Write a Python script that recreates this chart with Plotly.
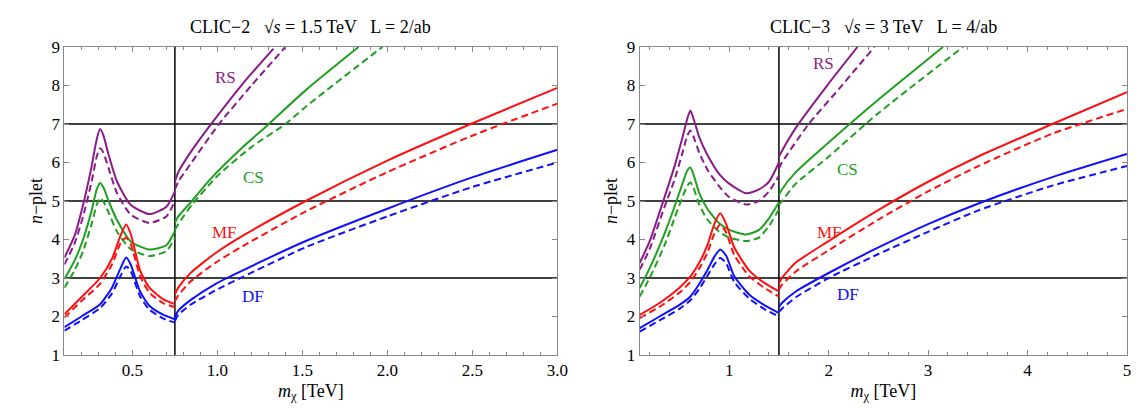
import plotly.graph_objects as go

# ---------------- CLIC-2 (left) ----------------
L_thr = 0.75
L_pre_x_S = [0.1, 0.16, 0.21, 0.26, 0.29, 0.31, 0.33, 0.36, 0.41, 0.49, 0.6, 0.7, 0.75]
L_RS_sol_pre = [3.53, 4.1, 4.9, 5.9, 6.6, 6.87, 6.7, 6.2, 5.5, 4.9, 4.66, 4.85, 5.25]
L_RS_das_pre = [3.35, 3.9, 4.6, 5.5, 6.15, 6.37, 6.25, 5.85, 5.2, 4.65, 4.43, 4.6, 5.0]
L_CS_sol_pre = [2.97, 3.45, 4.0, 4.75, 5.3, 5.47, 5.35, 5.0, 4.5, 3.95, 3.74, 3.85, 4.22]
L_CS_das_pre = [2.75, 3.2, 3.7, 4.4, 4.9, 5.08, 4.98, 4.7, 4.2, 3.75, 3.57, 3.7, 4.04]
L_RS_sol_post_x = [0.75, 0.77, 0.84, 0.955, 1.15, 1.33]
L_RS_sol_post = [5.5, 5.75, 6.25, 6.95, 8.05, 8.96]
L_RS_das_post_x = [0.75, 0.77, 0.84, 1.01, 1.2, 1.4]
L_RS_das_post = [5.3, 5.5, 5.95, 7.0, 8.0, 9.0]
L_CS_sol_post_x = [0.75, 0.77, 0.84, 0.955, 1.15, 1.29, 1.52, 1.83]
L_CS_sol_post = [4.43, 4.6, 4.95, 5.55, 6.4, 6.95, 7.88, 9.0]
L_CS_das_post_x = [0.75, 0.77, 0.85, 1.0, 1.2, 1.4, 1.52, 1.97]
L_CS_das_post = [4.25, 4.4, 4.9, 5.65, 6.4, 7.0, 7.45, 9.0]
L_pre_x_F = [0.1, 0.2, 0.31, 0.38, 0.43, 0.463, 0.49, 0.545, 0.6, 0.68, 0.75]
L_MF_sol_pre = [2.06, 2.5, 3.0, 3.5, 4.1, 4.39, 4.15, 3.2, 2.75, 2.45, 2.32]
L_MF_das_pre = [1.97, 2.4, 2.85, 3.35, 3.9, 4.05, 3.88, 3.05, 2.62, 2.35, 2.24]
L_DF_sol_pre = [1.72, 2.0, 2.32, 2.75, 3.25, 3.53, 3.35, 2.65, 2.28, 2.05, 1.93]
L_DF_das_pre = [1.63, 1.9, 2.22, 2.6, 3.05, 3.3, 3.18, 2.52, 2.18, 1.95, 1.84]
L_post_x_F = [0.75, 0.77, 0.84, 0.99, 1.15, 1.52, 2.0, 2.49, 3.0]
L_MF_sol_post = [2.58, 2.75, 3.12, 3.65, 4.1, 5.0, 6.05, 7.0, 7.94]
L_MF_das_post = [2.4, 2.55, 2.9, 3.4, 3.83, 4.73, 5.75, 6.68, 7.53]
L_DF_sol_post = [1.98, 2.15, 2.42, 2.85, 3.2, 3.96, 4.8, 5.6, 6.33]
L_DF_das_post = [1.88, 2.04, 2.3, 2.68, 3.03, 3.8, 4.6, 5.35, 6.0]

# ---------------- CLIC-3 (right) ----------------
R_thr = 1.5
R_pre_x_S = [0.1, 0.2, 0.35, 0.45, 0.53, 0.58, 0.61, 0.64, 0.7, 0.78, 0.9, 1.0, 1.17, 1.3, 1.4, 1.5]
R_RS_sol_pre = [3.39, 3.95, 5.1, 5.9, 6.65, 7.15, 7.35, 7.15, 6.65, 6.2, 5.7, 5.45, 5.2, 5.3, 5.5, 6.0]
R_RS_das_pre = [3.22, 3.75, 4.85, 5.55, 6.25, 6.7, 6.83, 6.68, 6.25, 5.82, 5.38, 5.1, 4.91, 5.0, 5.25, 5.65]
R_CS_sol_pre = [2.74, 3.25, 4.15, 4.85, 5.45, 5.8, 5.87, 5.7, 5.2, 4.8, 4.42, 4.25, 4.13, 4.25, 4.55, 4.96]
R_CS_das_pre = [2.52, 3.0, 3.85, 4.55, 5.1, 5.4, 5.48, 5.35, 4.9, 4.52, 4.2, 4.05, 3.96, 4.05, 4.35, 4.78]
R_RS_sol_post_x = [1.5, 1.53, 1.67, 2.0, 2.29]
R_RS_sol_post = [6.15, 6.3, 6.9, 8.05, 9.0]
R_RS_das_post_x = [1.5, 1.53, 1.8, 2.1, 2.46]
R_RS_das_post = [5.85, 6.0, 7.0, 7.9, 9.0]
R_CS_sol_post_x = [1.5, 1.53, 1.67, 2.0, 2.49, 3.15]
R_CS_sol_post = [5.15, 5.3, 5.75, 6.52, 7.61, 9.0]
R_CS_das_post_x = [1.5, 1.53, 1.67, 2.0, 2.49, 3.35]
R_CS_das_post = [4.9, 5.0, 5.45, 6.15, 7.26, 9.0]
R_pre_x_F = [0.1, 0.3, 0.5, 0.61, 0.7, 0.78, 0.85, 0.91, 0.97, 1.05, 1.2, 1.35, 1.5]
R_MF_sol_pre = [2.04, 2.35, 2.75, 3.04, 3.4, 3.85, 4.4, 4.68, 4.4, 3.8, 3.2, 2.88, 2.65]
R_MF_das_pre = [1.96, 2.25, 2.62, 2.9, 3.25, 3.65, 4.15, 4.39, 4.18, 3.6, 3.05, 2.75, 2.52]
R_DF_sol_pre = [1.7, 2.0, 2.3, 2.52, 2.85, 3.2, 3.55, 3.74, 3.58, 3.05, 2.57, 2.3, 2.09]
R_DF_das_pre = [1.61, 1.9, 2.2, 2.42, 2.72, 3.05, 3.35, 3.52, 3.38, 2.9, 2.47, 2.2, 2.0]
R_post_x_F = [1.5, 1.53, 1.67, 2.0, 2.49, 3.0, 3.5, 4.25, 5.0]
R_MF_sol_post = [2.85, 3.0, 3.4, 3.96, 4.75, 5.5, 6.15, 7.0, 7.83]
R_MF_das_post = [2.7, 2.82, 3.17, 3.72, 4.5, 5.25, 5.9, 6.75, 7.39]
R_DF_sol_post = [2.25, 2.35, 2.65, 3.13, 3.78, 4.4, 4.93, 5.62, 6.22]
R_DF_das_post = [2.12, 2.2, 2.5, 3.0, 3.61, 4.2, 4.75, 5.4, 5.91]

labels = ["RS", "CS", "MF", "DF"]
colors = {"RS": "#8B1A8B", "CS": "#20A020", "MF": "#FF1010", "DF": "#1010FF"}
L_label_pos = {"RS": (1.05, 8.22), "CS": (1.21, 5.6), "MF": (1.04, 4.17), "DF": (1.21, 2.53)}
R_label_pos = {"RS": (1.95, 8.57), "CS": (2.19, 5.83), "MF": (2.01, 4.17), "DF": (2.19, 2.57)}

titles = ["CLIC−2   √<i>s</i> = 1.5 TeV   L = 2/ab", "CLIC−3   √<i>s</i> = 3 TeV   L = 4/ab"]

SERIF = "Liberation Serif, Times New Roman, serif"
fig = go.Figure()

def add(xa, ya, xs, ys, col, dash):
    fig.add_trace(go.Scatter(x=xs, y=ys, mode="lines", xaxis=xa, yaxis=ya,
                             line=dict(color=col, width=2, dash=dash, shape="spline", smoothing=0.6),
                             showlegend=False, hoverinfo="skip"))

L_dom = [0.050, 0.487]
R_dom = [0.560, 0.992]
panels = [
    ("x", "y", {
        "RS": [(L_pre_x_S, L_RS_sol_pre, L_RS_sol_post_x, L_RS_sol_post), (L_pre_x_S, L_RS_das_pre, L_RS_das_post_x, L_RS_das_post)],
        "CS": [(L_pre_x_S, L_CS_sol_pre, L_CS_sol_post_x, L_CS_sol_post), (L_pre_x_S, L_CS_das_pre, L_CS_das_post_x, L_CS_das_post)],
        "MF": [(L_pre_x_F, L_MF_sol_pre, L_post_x_F, L_MF_sol_post), (L_pre_x_F, L_MF_das_pre, L_post_x_F, L_MF_das_post)],
        "DF": [(L_pre_x_F, L_DF_sol_pre, L_post_x_F, L_DF_sol_post), (L_pre_x_F, L_DF_das_pre, L_post_x_F, L_DF_das_post)],
    }, L_label_pos, L_thr, L_dom),
    ("x2", "y2", {
        "RS": [(R_pre_x_S, R_RS_sol_pre, R_RS_sol_post_x, R_RS_sol_post), (R_pre_x_S, R_RS_das_pre, R_RS_das_post_x, R_RS_das_post)],
        "CS": [(R_pre_x_S, R_CS_sol_pre, R_CS_sol_post_x, R_CS_sol_post), (R_pre_x_S, R_CS_das_pre, R_CS_das_post_x, R_CS_das_post)],
        "MF": [(R_pre_x_F, R_MF_sol_pre, R_post_x_F, R_MF_sol_post), (R_pre_x_F, R_MF_das_pre, R_post_x_F, R_MF_das_post)],
        "DF": [(R_pre_x_F, R_DF_sol_pre, R_post_x_F, R_DF_sol_post), (R_pre_x_F, R_DF_das_pre, R_post_x_F, R_DF_das_post)],
    }, R_label_pos, R_thr, R_dom),
]

shapes = []
annotations = []
for i, (xa, ya, curves, lpos, thr, dom) in enumerate(panels):
    for lvl in [3, 5, 7]:
        shapes.append(dict(type="line", xref=xa + " domain", yref=ya, x0=0, x1=1, y0=lvl, y1=lvl,
                           line=dict(color="black", width=1.3), layer="below"))
    shapes.append(dict(type="line", xref=xa, yref=ya + " domain", x0=thr, x1=thr, y0=0, y1=1,
                       line=dict(color="black", width=1.5), layer="below"))
    for lab in labels:
        for (px, py, qx, qy), dash in zip(curves[lab], ["solid", "7px,4px"]):
            add(xa, ya, px, py, colors[lab], dash)
            add(xa, ya, qx, qy, colors[lab], dash)
        annotations.append(dict(x=lpos[lab][0], y=lpos[lab][1], xref=xa, yref=ya, text=lab,
                                xanchor="center", yanchor="middle",
                                showarrow=False, font=dict(color=colors[lab], size=17, family=SERIF)))
    annotations.append(dict(x=(dom[0] + dom[1]) / 2, y=1.0, xref="paper", yref="paper", yshift=8,
                            xanchor="center", yanchor="bottom", text=titles[i], showarrow=False,
                            font=dict(size=18, family=SERIF, color="black")))

axis_common = dict(showgrid=False, zeroline=False, mirror="allticks", ticks="inside", showline=True,
                   linecolor="#888", linewidth=1, tickcolor="#888", ticklen=5,
                   tickfont=dict(family=SERIF, size=17, color="black"))

xt = dict(text="<i>m</i><sub>χ</sub> [TeV]", standoff=4, font=dict(family=SERIF, size=18, color="black"))
yt = dict(text="<i>n</i>−plet", standoff=4, font=dict(family=SERIF, size=18, color="black"))

fig.update_layout(
    width=1139, height=412, paper_bgcolor="white", plot_bgcolor="white",
    margin=dict(l=0, r=0, t=39, b=65),
    shapes=shapes, annotations=annotations,
    xaxis=dict(domain=L_dom, range=[0.1, 3.0], tickvals=[0.5, 1.0, 1.5, 2.0, 2.5, 3.0],
               ticktext=["0.5", "1.0", "1.5", "2.0", "2.5", "3.0"],
               minor=dict(dtick=0.1, tick0=0.0, ticks="inside", ticklen=3, tickcolor="#888"),
               title=xt, anchor="y", **axis_common),
    yaxis=dict(domain=[0, 1], range=[1, 9], dtick=1, title=yt, anchor="x", **axis_common),
    xaxis2=dict(domain=R_dom, range=[0.1, 5.0], tickvals=[1, 2, 3, 4, 5],
                minor=dict(dtick=0.2, tick0=0.0, ticks="inside", ticklen=3, tickcolor="#888"),
                title=xt, anchor="y2", **axis_common),
    yaxis2=dict(domain=[0, 1], range=[1, 9], dtick=1, title=yt, anchor="x2", **axis_common),
)

fig.write_html("out.html")
